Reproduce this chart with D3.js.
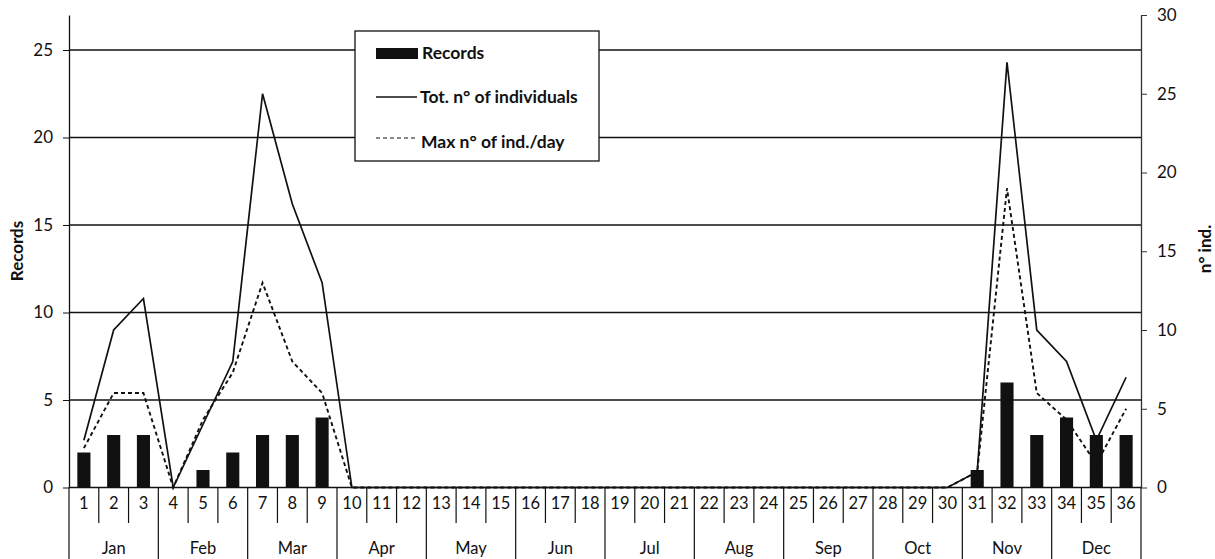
<!DOCTYPE html>
<html>
<head>
<meta charset="utf-8">
<script src="https://cdn.jsdelivr.net/npm/d3@7"></script>
<style>
  html, body { margin: 0; padding: 0; background: #fff; }
  svg { display: block; font-family: "Lato", "Open Sans", sans-serif; }
</style>
</head>
<body>
<svg id="chart" width="1215" height="559"></svg>
<script>
// ---- data ----
const weeks = d3.range(1, 37);
const months = ["Jan","Feb","Mar","Apr","May","Jun","Jul","Aug","Sep","Oct","Nov","Dec"];
const records = [2,3,3,0,1,2,3,3,4,0, 0,0,0,0,0,0,0,0,0,0, 0,0,0,0,0,0,0,0,0,0, 1,6,3,4,3,3];
const totIndividuals = [3,10,12,0,4,8,25,18,13,0, 0,0,0,0,0,0,0,0,0,0, 0,0,0,0,0,0,0,0,0,0, 1,27,10,8,3,7];
const maxPerDay = [2.5,6,6,0,4.3,7.3,13,8,6,0, 0,0,0,0,0,0,0,0,0,0, 0,0,0,0,0,0,0,0,0,0, 1,19,6,4.3,1.5,5];
const leftTicks = [0,5,10,15,20,25];
const rightTicks = [0,5,10,15,20,25,30];
const legendLabels = ["Records", "Tot. n° of individuals", "Max n° of ind./day"];

// ---- layout ----
const svg = d3.select("#chart");
const W = 1215, H = 559;
const L = 69, R = 1141, T = 15, B = 487.5;

svg.append("rect").attr("width", W).attr("height", H).attr("fill", "#fff");

const x = d3.scaleBand().domain(weeks).range([L, R]).padding(0);
const yL = d3.scaleLinear().domain([0, 27]).range([B, T]);
const yR = d3.scaleLinear().domain([0, 30]).range([B, T]);
const cx = w => x(w) + x.bandwidth() / 2;

// gridlines
svg.append("g").selectAll("line").data(leftTicks.filter(t => t > 0)).join("line")
  .attr("x1", L).attr("x2", R)
  .attr("y1", d => yL(d)).attr("y2", d => yL(d))
  .attr("stroke", "#111").attr("stroke-width", 1.3);

// bars
const bw = x.bandwidth() * 0.44;
svg.append("g").selectAll("rect").data(weeks).join("rect")
  .attr("x", d => cx(d) - bw / 2)
  .attr("width", bw)
  .attr("y", (d, i) => yL(records[i]))
  .attr("height", (d, i) => B - yL(records[i]))
  .attr("fill", "#111");

// lines
const line = d3.line().x(d => cx(d[0])).y(d => yR(d[1]));
svg.append("path")
  .datum(weeks.map((w, i) => [w, totIndividuals[i]]))
  .attr("d", line).attr("fill", "none")
  .attr("stroke", "#111").attr("stroke-width", 1.7).attr("stroke-linejoin", "miter");
svg.append("path")
  .datum(weeks.map((w, i) => [w, maxPerDay[i]]))
  .attr("d", line).attr("fill", "none")
  .attr("stroke", "#111").attr("stroke-width", 1.9).attr("stroke-dasharray", "4,3");

// left axis
const axL = svg.append("g").attr("transform", `translate(${L},0)`)
  .call(d3.axisLeft(yL).tickValues(leftTicks).tickSize(6).tickPadding(10).tickSizeOuter(0));
axL.select(".domain").attr("stroke", "#111").attr("stroke-width", 1.3);
axL.selectAll(".tick line").attr("stroke", "#111");
axL.selectAll("text").attr("font-size", 17).attr("fill", "#111").attr("font-family", "Lato");

// right axis
const axR = svg.append("g").attr("transform", `translate(${R},0)`)
  .call(d3.axisRight(yR).tickValues(rightTicks).tickSize(6).tickPadding(10).tickSizeOuter(0));
axR.select(".domain").attr("stroke", "#333").attr("stroke-width", 1.3);
axR.selectAll(".tick line").attr("stroke", "#333");
axR.selectAll("text").attr("font-size", 17).attr("fill", "#111").attr("font-family", "Lato");

// category axis: baseline, separators
svg.append("line").attr("x1", L).attr("x2", R).attr("y1", B).attr("y2", B)
  .attr("stroke", "#111").attr("stroke-width", 1.3);
const bounds = d3.range(0, 37);
svg.append("g").selectAll("line").data(bounds).join("line")
  .attr("x1", i => i < 36 ? x(weeks[i]) : R)
  .attr("x2", i => i < 36 ? x(weeks[i]) : R)
  .attr("y1", B)
  .attr("y2", i => i % 3 === 0 ? H : 523)
  .attr("stroke", "#111").attr("stroke-width", 1.2);

svg.append("g").selectAll("text").data(weeks).join("text")
  .attr("x", d => cx(d)).attr("y", 509)
  .attr("text-anchor", "middle").attr("font-size", 16.5).attr("fill", "#111")
  .text(d => d);

svg.append("g").selectAll("text").data(months).join("text")
  .attr("x", (m, i) => (x(weeks[i * 3]) + x(weeks[i * 3 + 2]) + x.bandwidth()) / 2)
  .attr("y", 554)
  .attr("text-anchor", "middle").attr("font-size", 16.5).attr("fill", "#111")
  .text(d => d);

// axis titles
svg.append("text").attr("transform", "translate(23,251) rotate(-90)")
  .attr("text-anchor", "middle").attr("font-size", 17).attr("font-weight", "bold").attr("fill", "#111")
  .text("Records");
svg.append("text").attr("transform", "translate(1211,249) rotate(-90)")
  .attr("text-anchor", "middle").attr("font-size", 17).attr("font-weight", "bold").attr("fill", "#111")
  .text("n° ind.");

// legend
const lg = svg.append("g");
lg.append("rect").attr("x", 355).attr("y", 31).attr("width", 244).attr("height", 130)
  .attr("fill", "#fff").attr("stroke", "#111").attr("stroke-width", 1.3);
lg.append("rect").attr("x", 376).attr("y", 48).attr("width", 42).attr("height", 11).attr("fill", "#111");
lg.append("line").attr("x1", 376).attr("x2", 417).attr("y1", 97).attr("y2", 97)
  .attr("stroke", "#111").attr("stroke-width", 1.4);
lg.append("line").attr("x1", 376).attr("x2", 415).attr("y1", 138).attr("y2", 138)
  .attr("stroke", "#111").attr("stroke-width", 1.2).attr("stroke-dasharray", "4,3");
const ly = [59, 103, 148];
const lx = [422, 420, 421];
lg.selectAll("text.lbl").data(legendLabels).join("text").attr("class", "lbl")
  .attr("x", (d, i) => lx[i]).attr("y", (d, i) => ly[i])
  .attr("font-size", 17.5).attr("font-weight", "bold").attr("fill", "#111")
  .text(d => d);
</script>
</body>
</html>
